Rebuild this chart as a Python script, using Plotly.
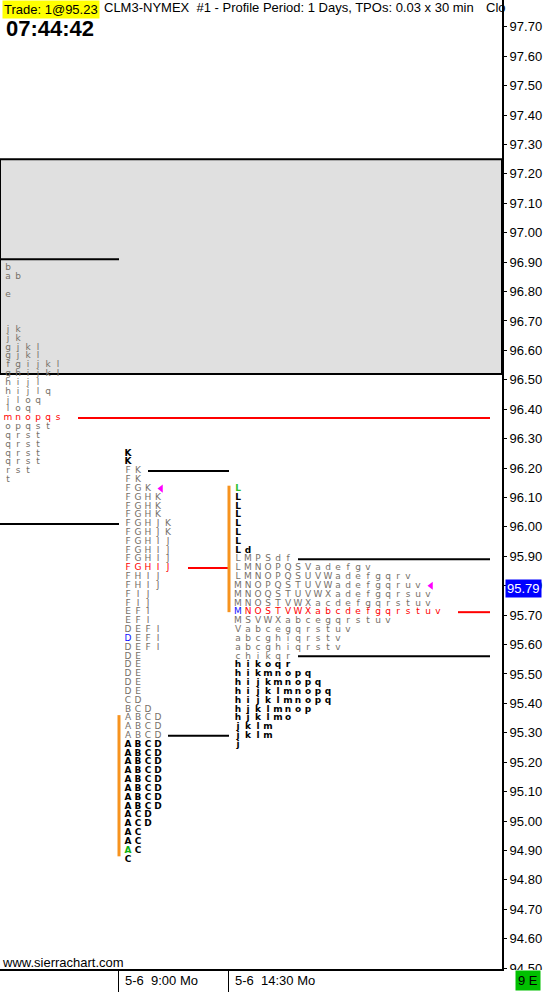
import plotly.graph_objects as go

# ---------------- data ----------------
last_price = 95.79
trade_text = "Trade: 1@95.23"
title_text = "CLM3-NYMEX\u00a0\u00a0#1 - Profile Period: 1 Days, TPOs: 0.03 x 30 min"
clock_text = "07:44:42"

profile_labels = ["", "5-6\u00a0\u00a09:00 Mo", "5-6\u00a0\u00a014:30 Mo"]
profile_start_cols = [0, 12, 23]

p1_prices = [96.88, 96.85, 96.79, 96.67, 96.64, 96.61, 96.58, 96.55, 96.52, 96.49, 96.46,
             96.43, 96.40, 96.37, 96.34, 96.31, 96.28, 96.25, 96.22, 96.19, 96.16]
p1_tpos = ["b", "ab", "e", "jk", "jk", "gjkl", "gjkl", "fgijkl", "ghijkl", "hijl", "hijlq",
           "jloq", "loq", "mnopqs", "opqst", "qrst", "qrst", "qrst", "qrst", "rst", "t"]

p2_prices = [96.25, 96.22, 96.19, 96.16, 96.13, 96.10, 96.07, 96.04, 96.01, 95.98, 95.95,
             95.92, 95.89, 95.86, 95.83, 95.80, 95.77, 95.74, 95.71, 95.68, 95.65, 95.62,
             95.59, 95.56, 95.53, 95.50, 95.47, 95.44, 95.41, 95.38, 95.35, 95.32, 95.29,
             95.26, 95.23, 95.20, 95.17, 95.14, 95.11, 95.08, 95.05, 95.02, 94.99, 94.96,
             94.93, 94.90, 94.87]
p2_tpos = ["K", "K", "FK", "FK", "FGK", "FGHK", "FGHK", "FGHK", "FGHJK", "FGHJK", "FGHIJ",
           "FGHIJ", "FGHIJ", "FGHIJ", "FHIJ", "FHIJ", "FIJ", "FIJ", "EFI", "EFI", "DEFI", "DEFI",
           "DEFI", "DE", "DE", "DE", "DE", "DE", "CD", "BCD", "ABCD", "ABCD", "ABCD",
           "ABCD", "ABCD", "ABCD", "ABCD", "ABCD", "ABCD", "ABCD", "ABCD", "ACD", "ACD", "AC",
           "AC", "AC", "C"]

p3_prices = [96.13, 96.10, 96.07, 96.04, 96.01, 95.98, 95.95, 95.92, 95.89, 95.86, 95.83,
             95.80, 95.77, 95.74, 95.71, 95.68, 95.65, 95.62, 95.59, 95.56, 95.53, 95.50,
             95.47, 95.44, 95.41, 95.38, 95.35, 95.32, 95.29, 95.26]
p3_tpos = ["L", "L", "L", "L", "L", "L", "L", "Ld", "LMPSdf", "LMNOPQSVadefgv",
           "LMNOPQSUVWadefgqrv", "MNOPQSTUVWadefgqruv", "MNOQSTUVWXadefgqrsuv",
           "MNOSTVWXacdefgqrstuv", "MNOSTVWXabcdefgqrstuv", "MSVWXabcegqrstuv",
           "Vabcegqrstuv", "abcghiqrstv", "abcghiqrstv", "chikqr", "hikoqr", "hikmnopq",
           "hijkmnopq", "hijklmnopq", "hijklmnopq", "hjklmnop", "hjklmo", "jklm", "jklm", "j"]

va_low = [96.01, 95.29, 95.56]
va_high = [96.91, 96.19, 95.89]
poc_prices = [96.37, 95.86, 95.71]
# profile index at which each profile's lines stop (None = still extended)
va_line_end = [1, 2, None]
poc_line_end = [None, 2, None]

ib_low = [None, 94.88, 95.71]
ib_high = [None, 95.36, 96.14]

shaded_zone_low = 96.52
shaded_zone_high = 97.25

# (profile, price, letter index, colour)
special_letters = [(1, 95.62, 0, "#1010ff"), (1, 94.90, 0, "#10b010"),
                   (2, 96.13, 0, "#30c030"), (2, 95.71, 0, "#1010ff")]
# current-price markers (profile, price)
marker_rows = [(1, 96.13), (2, 95.80)]

# ---------------- style ----------------
PLOT_W, PLOT_H = 502, 969
COL_PX = 10.0
X_LEFT = -0.8
X_RIGHT = X_LEFT + PLOT_W / COL_PX
RIGHT_END_COL = 48.2
Y_TOP, Y_BOT = 97.791, 94.497
FONT = "Liberation Sans"
TPO_FONT = "DejaVu Sans"
TPO_SIZE = 9
GRAY = "#767068"

profiles = [(p1_prices, p1_tpos), (p2_prices, p2_tpos), (p3_prices, p3_tpos)]

def px_x(px):
    return px / PLOT_W

def px_y(py):
    return 1 - py / PLOT_H

groups = {}
def add(key, x, y, t):
    g = groups.setdefault(key, ([], [], []))
    g[0].append(x); g[1].append(y); g[2].append(t)

eps = 1e-6
for pi, (prices, tpos) in enumerate(profiles):
    s = profile_start_cols[pi]
    for price, row in zip(prices, tpos):
        for j, ch in enumerate(row):
            if abs(price - poc_prices[pi]) < eps:
                color, weight = "#ff0000", "normal"
            elif price > va_high[pi] + eps or price < va_low[pi] - eps:
                color, weight = "#000000", "bold"
            else:
                color, weight = GRAY, "normal"
            for (sp, spp, sj, sc) in special_letters:
                if sp == pi and abs(spp - price) < eps and sj == j:
                    color = sc
            add((color, weight), s + j, price, ch)

fig = go.Figure()
for (color, weight), (xs, ys, ts) in groups.items():
    fig.add_trace(go.Scatter(
        x=xs, y=ys, text=ts, mode="text", textposition="middle center",
        textfont=dict(family=TPO_FONT, size=TPO_SIZE, color=color, weight=weight),
        hoverinfo="skip", showlegend=False))

def row_len(pi, price):
    prices, tpos = profiles[pi]
    for p, r in zip(prices, tpos):
        if abs(p - price) < eps:
            return len(r)
    return None

mx, my = [], []
for pi, price in marker_rows:
    mx.append(profile_start_cols[pi] + row_len(pi, price) + 0.3)
    my.append(price)
fig.add_trace(go.Scatter(x=mx, y=my, mode="markers",
                         marker=dict(symbol="triangle-left", size=7, color="#ff00ff"),
                         hoverinfo="skip", showlegend=False))

shapes = []
# shaded zone
shapes.append(dict(type="rect", xref="paper", yref="y", x0=0, x1=1,
                   y0=shaded_zone_low, y1=shaded_zone_high,
                   fillcolor="#e0e0e0", line=dict(color="black", width=2), layer="below"))

def line_end(end_profile):
    if end_profile is None:
        return RIGHT_END_COL
    return profile_start_cols[end_profile] - 0.9

for pi in range(3):
    s = profile_start_cols[pi]
    for price, endp, gap, color in [(va_high[pi], va_line_end[pi], 1, "black"),
                                    (va_low[pi], va_line_end[pi], 1, "black"),
                                    (poc_prices[pi], poc_line_end[pi], 2, "#ff0000")]:
        n = row_len(pi, price)
        x0 = X_LEFT if n is None else s + n - 1 + gap
        shapes.append(dict(type="line", xref="x", yref="y", x0=x0, x1=line_end(endp),
                           y0=price, y1=price, line=dict(color=color, width=2), layer="below"))
    if ib_low[pi] is not None:
        shapes.append(dict(type="line", xref="x", yref="y", x0=s - 0.9, x1=s - 0.9,
                           y0=ib_low[pi], y1=ib_high[pi],
                           line=dict(color="#f7931e", width=3), layer="below"))

# white mask for clipped bottom price label
shapes.append(dict(type="rect", xref="paper", yref="paper", x0=1.004, x1=1.1,
                   y0=-0.03, y1=px_y(PLOT_H + 1), fillcolor="white", line=dict(width=0),
                   layer="above"))
# time-scale separators
for pi in (1, 2):
    xsep = profile_start_cols[pi] - 0.95
    shapes.append(dict(type="line", xref="x", yref="paper", x0=xsep, x1=xsep,
                       y0=0, y1=px_y(992), line=dict(color="black", width=1), layer="above"))

ann = []
ann.append(dict(text=trade_text, xref="paper", yref="paper", x=px_x(2), y=1,
                xanchor="left", yanchor="top", showarrow=False, bgcolor="#ffff00",
                borderpad=1, font=dict(family=FONT, size=13, color="black")))
ann.append(dict(text=title_text, xref="paper", yref="paper", x=px_x(102), y=px_y(8),
                xanchor="left", yanchor="middle", showarrow=False,
                font=dict(family=FONT, size=13, color="black")))
ann.append(dict(text="Clo", xref="paper", yref="paper", x=px_x(484), y=px_y(8),
                xanchor="left", yanchor="middle", showarrow=False,
                font=dict(family=FONT, size=13, color="black")))
ann.append(dict(text=clock_text, xref="paper", yref="paper", x=px_x(4), y=px_y(29),
                xanchor="left", yanchor="middle", showarrow=False,
                font=dict(family=FONT, size=22, color="black", weight="bold")))
ann.append(dict(text="www.sierrachart.com", xref="paper", yref="paper", x=px_x(0), y=px_y(962),
                xanchor="left", yanchor="middle", showarrow=False,
                font=dict(family=FONT, size=13, color="black")))
for pi in (1, 2):
    ann.append(dict(text=profile_labels[pi], xref="x", yref="paper",
                    x=profile_start_cols[pi] - 0.5, y=px_y(981),
                    xanchor="left", yanchor="middle", showarrow=False,
                    font=dict(family=FONT, size=13, color="black")))
ann.append(dict(text=f"{last_price:.2f}", xref="paper", yref="y", x=px_x(505), y=last_price,
                xanchor="left", yanchor="middle", showarrow=False, bgcolor="#0000ff",
                borderpad=1, font=dict(family=FONT, size=13, color="white")))
ann.append(dict(text="9 E", xref="paper", yref="paper", x=px_x(528), y=px_y(981),
                xanchor="center", yanchor="middle", showarrow=False, bgcolor="#00c000",
                borderpad=2, font=dict(family=FONT, size=13, color="black")))

fig.update_layout(
    width=543, height=992,
    margin=dict(l=0, r=543 - PLOT_W, t=0, b=992 - PLOT_H, pad=0),
    plot_bgcolor="white", paper_bgcolor="white",
    shapes=shapes, annotations=ann,
    xaxis=dict(range=[X_LEFT, X_RIGHT], showticklabels=False, ticks="", showgrid=False,
               zeroline=False, showline=True, linecolor="black", linewidth=2),
    yaxis=dict(range=[Y_BOT, Y_TOP], side="right", tick0=0, dtick=0.1, tickformat=".2f",
               ticks="outside", ticklen=3, tickcolor="black", showgrid=False, zeroline=False,
               showline=True, linecolor="black", linewidth=2,
               tickfont=dict(family=FONT, size=13, color="black")),
)

fig.write_html("out.html", config={"displayModeBar": False},
               post_script="document.body.style.margin='0';document.body.style.overflow='hidden';")
